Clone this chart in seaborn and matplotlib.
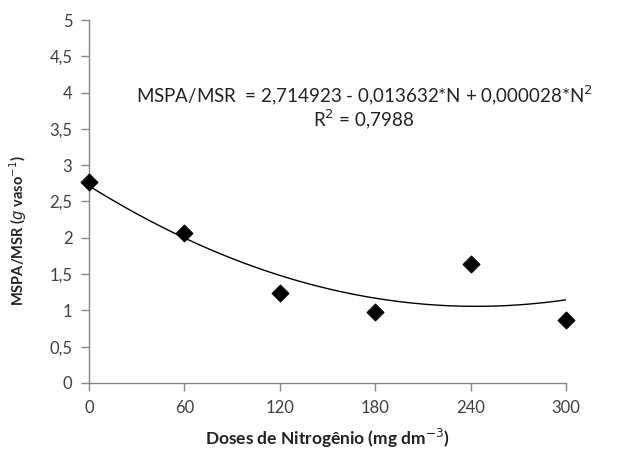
import matplotlib
matplotlib.use('Agg')
import matplotlib.pyplot as plt
import seaborn as sns
import numpy as np
import pandas as pd

# dados
doses = [0, 60, 120, 180, 240, 300]
mspa_msr = [2.77, 2.06, 1.24, 0.98, 1.64, 0.87]
# coeficientes da equacao mostrada no grafico
b0, b1, b2 = 2.714923, -0.013632, 0.000028
x_ticks = [0, 60, 120, 180, 240, 300]
y_ticks = [0, 0.5, 1, 1.5, 2, 2.5, 3, 3.5, 4, 4.5, 5]
y_labels = ['0', '0,5', '1', '1,5', '2', '2,5', '3', '3,5', '4', '4,5', '5']

sns.set_style('white')
plt.rcParams['font.family'] = ['Lato', 'DejaVu Sans']

df = pd.DataFrame({'N': doses, 'y': mspa_msr})
nn = np.linspace(0, 300, 200)
curva = pd.DataFrame({'N': nn, 'y': b0 + b1 * nn + b2 * nn ** 2})

fig = plt.figure(figsize=(6.38, 4.58), dpi=100)
ax = fig.add_axes([0.1395, 0.1638, 0.7475, 0.7925])

sns.lineplot(data=curva, x='N', y='y', color='black', linewidth=1.0, ax=ax)
sns.scatterplot(data=df, x='N', y='y', marker='D', s=75, color='black',
                edgecolor='black', ax=ax, zorder=3)

ax.set_xlim(0, 300)
ax.set_ylim(0, 5)
ax.set_xticks(x_ticks)
ax.set_xticklabels([str(v) for v in x_ticks])
ax.set_yticks(y_ticks)
ax.set_yticklabels(y_labels)

cinza = '#868686'
for s in ['top', 'right']:
    ax.spines[s].set_visible(False)
for s in ['left', 'bottom']:
    ax.spines[s].set_color(cinza)
    ax.spines[s].set_linewidth(1.0)
ax.tick_params(axis='both', direction='out', length=6, width=1, color=cinza,
               labelsize=12, labelcolor='#404040', pad=6, left=True, bottom=True)
for c in ax.collections:
    c.set_clip_on(False)

ax.set_xlabel('Doses de Nitrogênio (mg dm$^{-3}$)', fontsize=12.5, fontweight='bold',
              color='#222222', labelpad=8)
ax.set_ylabel('MSPA/MSR ($g$ vaso$^{-1}$)', fontsize=10.5, fontweight='bold',
              color='#222222')
ax.yaxis.set_label_coords(-0.125, 0.42)

ax.text(173, 3.97, 'MSPA/MSR  = 2,714923 - 0,013632*N + 0,000028*N$^{2}$',
        ha='center', va='center', fontsize=13.5, color='#222222')
ax.text(173, 3.63, 'R$^{2}$ = 0,7988', ha='center', va='center', fontsize=13.5,
        color='#222222')

fig.savefig('out.png', dpi=100)
